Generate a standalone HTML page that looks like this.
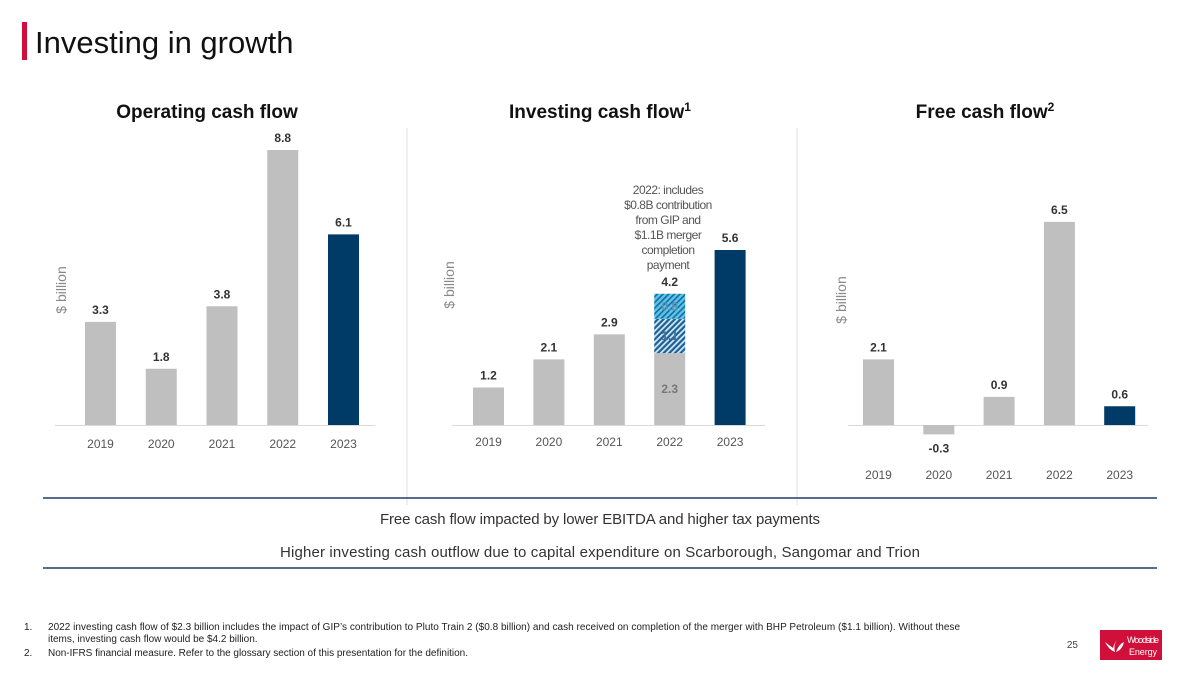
<!DOCTYPE html>
<html><head><meta charset="utf-8">
<style>
html,body{margin:0;padding:0;background:#fff;width:1200px;height:675px;overflow:hidden;font-family:"Liberation Sans",sans-serif}
svg text{font-family:"Liberation Sans",sans-serif}
</style></head>
<body>
<svg id="s" width="1200" height="675" viewBox="0 0 1200 675" xmlns="http://www.w3.org/2000/svg">
<defs>
<pattern id="hatchLight" patternUnits="userSpaceOnUse" width="4" height="4" patternTransform="rotate(45)">
<rect width="4" height="4" fill="#5bc6e8"/><rect width="1.6" height="4" fill="#1a6aa0"/></pattern>
<pattern id="hatchDark" patternUnits="userSpaceOnUse" width="4" height="4" patternTransform="rotate(45)">
<rect width="4" height="4" fill="#1b5f95"/><rect width="1.8" height="4" fill="#cfe6f3"/></pattern>
</defs>
<rect x="22" y="22" width="5" height="38" fill="#d0103a"/>
<text x="35" y="53" font-size="31" fill="#111">Investing in growth</text>

<text x="207" y="118" font-size="19" font-weight="bold" text-anchor="middle" fill="#111">Operating cash flow</text>
<text x="600" y="118" font-size="19" font-weight="bold" text-anchor="middle" fill="#111">Investing cash flow<tspan font-size="12" dy="-7">1</tspan></text>
<text x="985" y="118" font-size="19" font-weight="bold" text-anchor="middle" fill="#111">Free cash flow<tspan font-size="12" dy="-7">2</tspan></text>

<line x1="407" y1="128" x2="407" y2="505" stroke="#e2e2e2"/>
<line x1="797" y1="128" x2="797" y2="505" stroke="#e2e2e2"/>

<text transform="translate(66,290) rotate(-90)" font-size="14" fill="#888" text-anchor="middle">$ billion</text>
<text transform="translate(454,285) rotate(-90)" font-size="14" fill="#888" text-anchor="middle">$ billion</text>
<text transform="translate(846,300) rotate(-90)" font-size="14" fill="#888" text-anchor="middle">$ billion</text>

<g id="c1"></g><g id="c2"></g><g id="c3"></g>

<text font-size="12" fill="#555" text-anchor="middle" letter-spacing="-0.5">
<tspan x="668" y="194">2022: includes</tspan><tspan x="668" y="209">$0.8B contribution</tspan><tspan x="668" y="224">from GIP and</tspan><tspan x="668" y="239">$1.1B merger</tspan><tspan x="668" y="254">completion</tspan><tspan x="668" y="269">payment</tspan></text>

<line x1="43" y1="498" x2="1157" y2="498" stroke="#1f3f66" stroke-width="1.5"/>
<line x1="43" y1="568" x2="1157" y2="568" stroke="#1f3f66" stroke-width="1.5"/>
<text x="600" y="524" font-size="15" fill="#333" text-anchor="middle" textLength="440">Free cash flow impacted by lower EBITDA and higher tax payments</text>
<text x="600" y="557" font-size="15" fill="#333" text-anchor="middle" textLength="640">Higher investing cash outflow due to capital expenditure on Scarborough, Sangomar and Trion</text>

<g font-size="10" fill="#222">
<text x="24" y="630">1.</text><text x="48" y="630" textLength="912">2022 investing cash flow of $2.3 billion includes the impact of GIP’s contribution to Pluto Train 2 ($0.8 billion) and cash received on completion of the merger with BHP Petroleum ($1.1 billion). Without these</text>
<text x="48" y="642">items, investing cash flow would be $4.2 billion.</text>
<text x="24" y="656">2.</text><text x="48" y="656" textLength="420">Non-IFRS financial measure. Refer to the glossary section of this presentation for the definition.</text>
</g>
<text x="1078" y="648" font-size="10" fill="#444" text-anchor="end">25</text>
<g>
<rect x="1100" y="630" width="62" height="30" fill="#d0103a"/>
<path d="M1105 642 q4 8 10 10 q-2-6 2-12 q-3 4-4 8 q-3-2-8-6z M1116 652 q6-2 8-10 q-5 2-8 10z" fill="#fff"/>
<text x="1127" y="643" font-size="9" fill="#fff" textLength="32">Woodside</text>
<text x="1129" y="655" font-size="9" fill="#fff" textLength="28">Energy</text>
</g>
</svg>
<script>
const NS="http://www.w3.org/2000/svg";
const years=["2019","2020","2021","2022","2023"];
const opValues=[3.3,1.8,3.8,8.8,6.1];
const invValues=[1.2,2.1,2.9,4.2,5.6];
const invBase2022=2.3, invGip=0.8, invMerger=1.1;
const fcfValues=[2.1,-0.3,0.9,6.5,0.6];
const baseY=425, scale=31.25, barW=31;
function yv(v){return baseY-v*scale;}
function mk(parent,tag,attrs){const e=document.createElementNS(NS,tag);for(const k in attrs)e.setAttribute(k,attrs[k]);parent.appendChild(e);return e;}
function txt(parent,x,y,s,o){const t=mk(parent,"text",Object.assign({x:x,y:y,"text-anchor":"middle","font-size":12},o||{}));t.textContent=s;return t;}
function chart(gid,vals,x0,step,axis,labelY,name){
  const g=document.getElementById(gid);
  const ax=mk(g,"line",{x1:axis[0],x2:axis[1],y1:baseY+0.5,y2:baseY+0.5,stroke:"#d9d9d9"});
  
  
  vals.forEach((v,i)=>{
    const x=x0+i*step, last=i===vals.length-1;
    const top=Math.min(yv(v),baseY), h=Math.abs(v*scale);
    let fill=last?"#003a66":"#bfbfbf";
    if(gid==="c2"&&i===3){
      const b1=mk(g,"rect",{x:x,y:yv(invBase2022),width:barW,height:invBase2022*scale,fill:"#bfbfbf"});
      
      
      const b2=mk(g,"rect",{x:x,y:yv(invBase2022+invMerger),width:barW,height:invMerger*scale,fill:"url(#hatchDark)"});
      
      
      const b3=mk(g,"rect",{x:x,y:yv(invBase2022+invMerger+invGip),width:barW,height:invGip*scale,fill:"url(#hatchLight)"});
      
      
      txt(g,x+barW/2,yv(invBase2022/2)+4,String(invBase2022),{fill:"#777","font-weight":"bold"});
      txt(g,x+barW/2,yv(invBase2022+invMerger/2)+4,String(invMerger),{fill:"#3d6f99","font-weight":"bold"});
      txt(g,x+barW/2,yv(invBase2022+invMerger+invGip/2)+4,String(invGip),{fill:"#5a8fb5","font-weight":"bold"});
    } else {
      const r=mk(g,"rect",{x:x,y:top,width:barW,height:h,fill:fill});
      
      
    }
    const ly=v>=0?yv(v)-8:baseY+h+18;
    const t=txt(g,x+barW/2,ly,v.toFixed(1),{fill:"#333","font-weight":"bold"});
    
    
    const yl=txt(g,x+barW/2,labelY,years[i],{fill:"#555"});
    
    
  });
}
chart("c1",opValues,85,60.75,[55,375],448,"operating");
chart("c2",invValues,473,60.4,[452,765],446,"investing");
chart("c3",fcfValues,863,60.3,[848,1148],479,"free");
</script>
</body></html>
